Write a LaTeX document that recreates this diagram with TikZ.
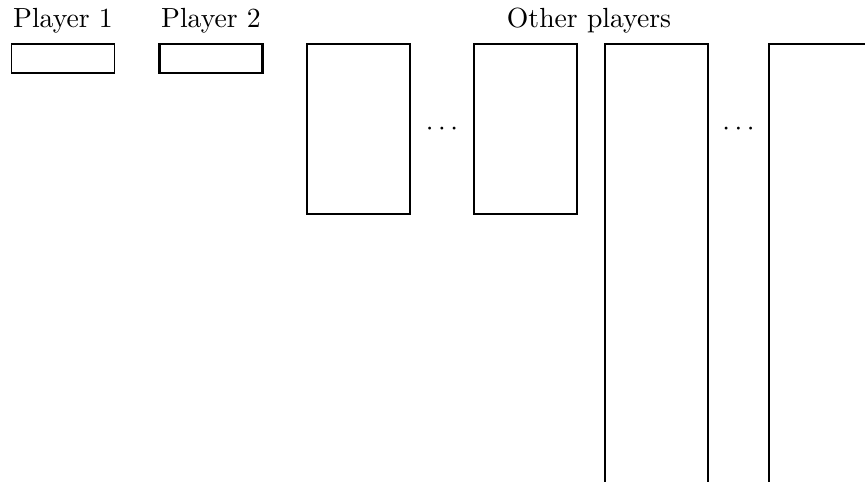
\documentclass[tikz,border=0pt]{standalone}
\usetikzlibrary{calc}
\begin{document}
\begin{tikzpicture}[x=0.0127cm,y=-0.0127cm,
  slot/.style={draw,line width=0.8pt,inner sep=0pt,minimum width=103*0.0127cm},
  rowbox/.style={slot,minimum height=29*0.0127cm},
  colbox/.style={slot,minimum height=170*0.0127cm},
  longbox/.style={slot,minimum height=556*0.0127cm},
  label/.style={inner sep=0pt,anchor=base}]
\useasboundingbox (0,0) rectangle (865,482);
\clip (0,0) rectangle (865,482);
% player headings
\node[label] (t1) at (63,28) {Player 1};
\node[label] (t2) at (211,28) {Player 2};
\node[label] (t3) at (589,28) {Other players};
% the two players' rows
\node[rowbox,line width=0.45pt] (p1) at (63,58.5) {};
\node[rowbox,line width=0.9pt] (p2) at (211,58.5) {};
% the other players' columns
\node[colbox] (o1) at (358.5,129) {};
\node[colbox] (o2) at (525.5,129) {};
\node[longbox] (o3) at (656.5,322) {};
\node[longbox] (o4) at (820.5,322) {};
% ellipses between columns
\node (d1) at ($(o1.east)!0.5!(o2.west)$) {$\cdots$};
\node (d2) at ($(o3.east |- o1.east)!0.5!(o4.west |- o1.east)$) {$\cdots$};
\end{tikzpicture}
\end{document}
